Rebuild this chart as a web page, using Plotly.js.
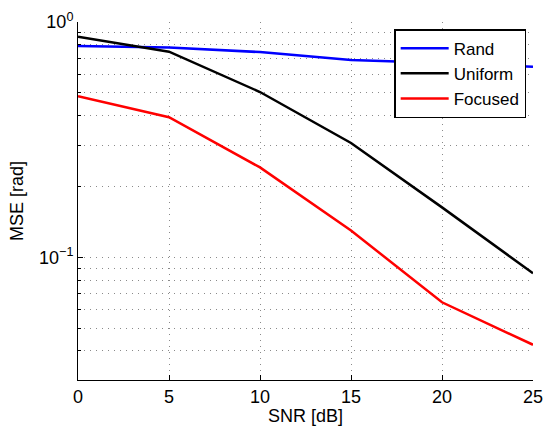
<!DOCTYPE html>
<html>
<head>
<meta charset="utf-8">
<script src="https://cdn.plot.ly/plotly-3.0.1.min.js"></script>
<style>html,body{margin:0;padding:0;background:#fff;}#chart{width:551px;height:426px;}</style>
</head>
<body>
<div id="chart"></div>
<script>
const snr = [0, 5, 10, 15, 20, 25];
const randMse = [0.79, 0.78, 0.745, 0.69, 0.67, 0.645];
const uniformMse = [0.866, 0.748, 0.504, 0.306, 0.163, 0.0855];
const focusedMse = [0.484, 0.394, 0.241, 0.130, 0.0644, 0.0425];
const seriesNames = ["Rand", "Uniform", "Focused"];
const xTicks = [0, 5, 10, 15, 20, 25];
const yTickVals = [0.1, 1];
const yTickText = ["10<sup>−1</sup>", "10<sup>0</sup>"];
const yMinorVals = [0.03, 0.04, 0.05, 0.06, 0.07, 0.08, 0.09, 0.2, 0.3, 0.4, 0.5, 0.6, 0.7, 0.8, 0.9];

const traces = [
  {x: snr, y: randMse, name: seriesNames[0], mode: "lines", line: {color: "#0000ff", width: 2.5}},
  {x: snr, y: uniformMse, name: seriesNames[1], mode: "lines", line: {color: "#000000", width: 2.5}},
  {x: snr, y: focusedMse, name: seriesNames[2], mode: "lines", line: {color: "#ff0000", width: 2.5}}
];

const gridCol = "#8a8a8a";
const gridDash = "1px,5px";
const layout = {
  width: 551, height: 426,
  margin: {l: 78, r: 18, t: 22, b: 46},
  paper_bgcolor: "#fff", plot_bgcolor: "#fff",
  font: {family: "Liberation Sans, Arial, sans-serif", size: 18, color: "#000"},
  showlegend: true,
  legend: {x: 0.985, y: 0.98, xanchor: "right", yanchor: "top",
    bordercolor: "#000", borderwidth: 1.5, bgcolor: "#fff",
    font: {size: 17}, tracegroupgap: 0, itemwidth: 48},
  xaxis: {
    range: [0, 25], tickvals: xTicks, ticks: "inside", ticklen: 5, tickcolor: "#000",
    showline: true, linecolor: "#000", linewidth: 1, mirror: false,
    showgrid: true, gridcolor: gridCol, griddash: gridDash, gridwidth: 1,
    zeroline: false, tickfont: {size: 18},
    title: {text: "SNR [dB]", font: {size: 18}, standoff: 2}
  },
  yaxis: {
    type: "log", range: [Math.log10(0.0301), 0],
    tickvals: yTickVals, ticktext: yTickText, ticks: "inside", ticklen: 5, tickcolor: "#000",
    showline: true, linecolor: "#000", linewidth: 1, mirror: false,
    showgrid: true, gridcolor: gridCol, griddash: gridDash, gridwidth: 1,
    zeroline: false, tickfont: {size: 18},
    minor: {tickvals: yMinorVals, ticks: "inside", ticklen: 3, tickcolor: "#000",
      showgrid: true, gridcolor: gridCol, griddash: gridDash, gridwidth: 1},
    title: {text: "MSE [rad]", font: {size: 18}, standoff: 10}
  }
};
Plotly.newPlot("chart", traces, layout, {displayModeBar: false, staticPlot: true});
</script>
</body>
</html>
